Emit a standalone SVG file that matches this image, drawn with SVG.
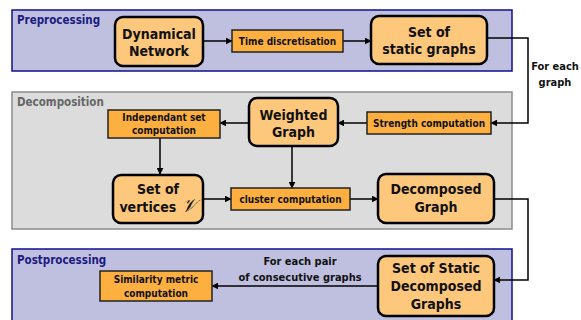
<svg xmlns="http://www.w3.org/2000/svg" width="581" height="320" viewBox="0 0 581 320">
<defs>
<marker id="ah" viewBox="0 0 10 10" refX="9" refY="5" markerWidth="7" markerHeight="7" markerUnits="userSpaceOnUse" orient="auto">
<path d="M0,0 L10,5 L0,10 Z" fill="#000"/>
</marker>
<style>
text{font-family:"DejaVu Sans Condensed","DejaVu Sans",sans-serif;font-weight:bold;text-anchor:middle}
.sec{font-size:11.5px;text-anchor:start}
.big{fill:#fdc77c;stroke:#000;stroke-width:2.5}
.big-t{font-size:14px;fill:#111}
.small{fill:#fdb03f;stroke:#222;stroke-width:1.5}
.small-t{font-size:10px;fill:#111}
.lbl{font-size:11px;fill:#111}
.conn path{fill:none;stroke:#000;stroke-width:1.5;marker-end:url(#ah)}
</style>
</defs>
<rect width="581" height="320" fill="#fff"/>
<g id="preprocessing">
<rect x="12" y="10" width="500" height="61" fill="#bfc0e0" stroke="#10108a" stroke-width="1.5"/>
<text class="sec" x="17" y="24" fill="#1a1a80">Preprocessing</text>
</g>
<g id="decomposition">
<rect x="12" y="92" width="500" height="137" fill="#dcdcdc" stroke="#8c8c8c" stroke-width="1.5"/>
<text class="sec" x="17" y="106" fill="#666">Decomposition</text>
</g>
<g id="postprocessing">
<rect x="12" y="249" width="500" height="85" fill="#bfc0e0" stroke="#10108a" stroke-width="1.5"/>
<text class="sec" x="17" y="264" fill="#1a1a80">Postprocessing</text>
</g>
<g class="conn" id="connectors">
<path d="M203,41 H232"/>
<path d="M343,41 H371"/>
<path d="M487,38 H528 V123 H491"/>
<path d="M367,123 H338"/>
<path d="M249,123 H220"/>
<path d="M160,138 V174"/>
<path d="M203,199 H231"/>
<path d="M292,146 V188"/>
<path d="M350,199 H378"/>
<path d="M494,199 H528 V280 H494"/>
<path d="M378,286 H212"/>
</g>
<g id="lbl-each-graph">
<text class="lbl" x="555" y="70">For each</text>
<text class="lbl" x="555" y="86">graph</text>
</g>
<g id="lbl-each-pair">
<text class="lbl" x="300" y="265">For each pair</text>
<text class="lbl" x="300" y="281">of consecutive graphs</text>
</g>
<g id="dynamical-network">
<rect class="big" x="115" y="17" width="88" height="49" rx="8"/>
<text class="big-t" x="159" y="39">Dynamical</text>
<text class="big-t" x="159" y="56">Network</text>
</g>
<g id="time-discretisation">
<rect class="small" x="232" y="30" width="111" height="22"/>
<text class="small-t" x="287.5" y="45">Time discretisation</text>
</g>
<g id="static-graphs">
<rect class="big" x="371" y="16" width="116" height="48" rx="8"/>
<text class="big-t" x="429" y="37">Set of</text>
<text class="big-t" x="429" y="54">static graphs</text>
</g>
<g id="strength-computation">
<rect class="small" x="367" y="112" width="124" height="22"/>
<text class="small-t" x="429" y="127">Strength computation</text>
</g>
<g id="weighted-graph">
<rect class="big" x="249" y="98" width="89" height="48" rx="8"/>
<text class="big-t" x="293.5" y="120">Weighted</text>
<text class="big-t" x="293.5" y="137">Graph</text>
</g>
<g id="independant-set">
<rect class="small" x="108" y="110" width="112" height="28"/>
<text class="small-t" x="164" y="121">Independant set</text>
<text class="small-t" x="164" y="134">computation</text>
</g>
<g id="set-of-vertices">
<rect class="big" x="113" y="175" width="90" height="48" rx="8"/>
<text class="big-t" x="158" y="194">Set of</text>
<text class="big-t" x="158" y="212">vertices <tspan font-family="DejaVu Serif,Liberation Serif,serif" font-style="italic" font-weight="normal" font-size="19">𝒱</tspan></text>
</g>
<g id="cluster-computation">
<rect class="small" x="231" y="188" width="119" height="22"/>
<text class="small-t" x="290.5" y="203">cluster  computation</text>
</g>
<g id="decomposed-graph">
<rect class="big" x="378" y="174" width="116" height="49" rx="8"/>
<text class="big-t" x="436" y="194">Decomposed</text>
<text class="big-t" x="436" y="212">Graph</text>
</g>
<g id="static-decomposed-graphs">
<rect class="big" x="378" y="256" width="116" height="60" rx="8"/>
<text class="big-t" x="436" y="273">Set of Static</text>
<text class="big-t" x="436" y="291">Decomposed</text>
<text class="big-t" x="436" y="309">Graphs</text>
</g>
<g id="similarity-metric">
<rect class="small" x="100" y="271" width="112" height="30"/>
<text class="small-t" x="156" y="283">Similarity metric</text>
<text class="small-t" x="156" y="297">computation</text>
</g>
</svg>
